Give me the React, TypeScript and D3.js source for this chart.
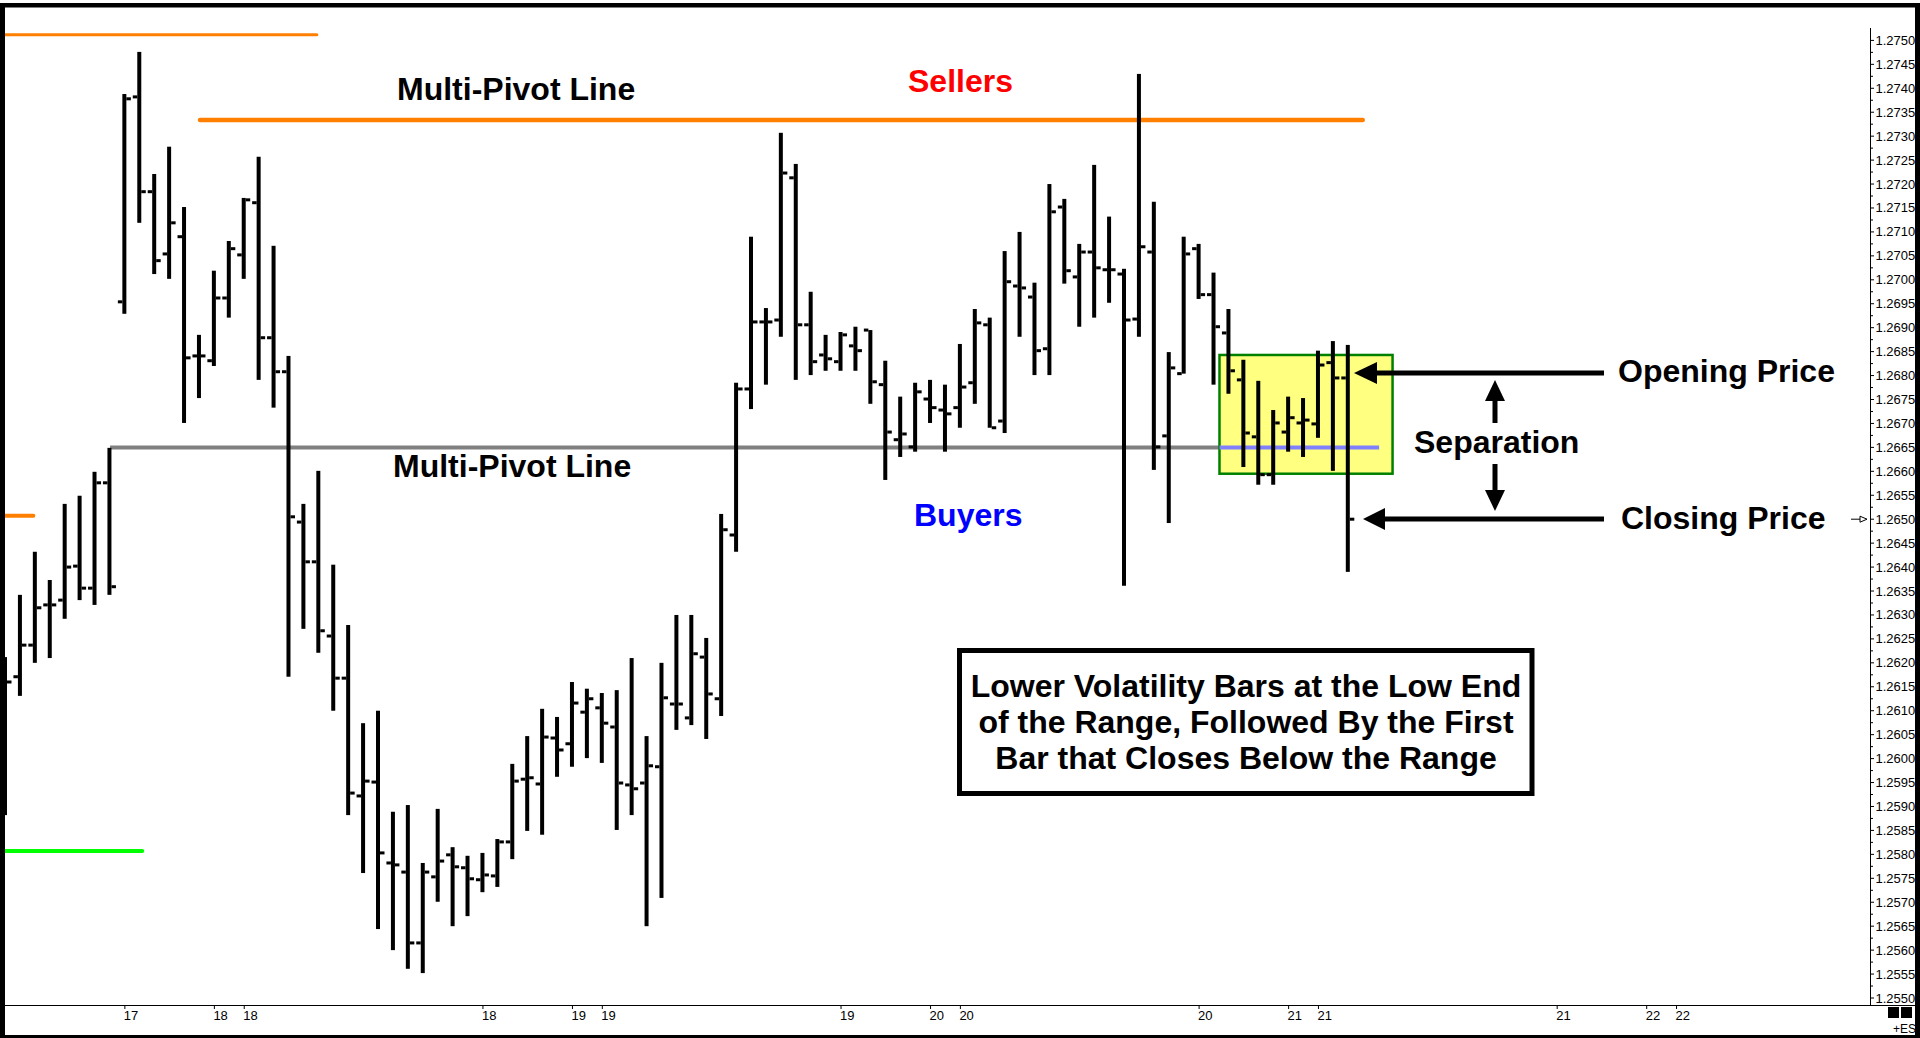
import React, { useEffect } from 'react';
import * as d3 from 'd3';

// OHLC hourly bars (price)
const opens = [
  1.26143, 1.26171, 1.26237, 1.26321, 1.26331, 1.26402, 1.26356, 1.26576, 1.26954, 1.27382,
  1.27184, 1.27054, 1.27090, 1.26841, 1.26831, 1.26962, 1.27052, 1.27161, 1.26879, 1.26808,
  1.26494, 1.26411, 1.26256, 1.26168, 1.25922, 1.25951, 1.25782, 1.25763, 1.25615, 1.25753,
  1.25799, 1.25772, 1.25747, 1.25755, 1.25826, 1.25957, 1.25947, 1.26043, 1.26031, 1.26097,
  1.26106, 1.26066, 1.25945, 1.25949, 1.25983, 1.26114, 1.26085, 1.26212, 1.26125, 1.26467,
  1.26772, 1.26912, 1.26916, 1.27213, 1.26906, 1.26843, 1.26829, 1.26862, 1.26895, 1.26781,
  1.26666, 1.26651, 1.26751, 1.26728, 1.26733, 1.26785, 1.26906, 1.26705, 1.26987, 1.26964,
  1.26856, 1.27152, 1.27006, 1.27058, 1.27021, 1.27012, 1.26918, 1.27058, 1.26674, 1.26804,
  1.27065, 1.26969, 1.26889, 1.26791, 1.26672, 1.26593, 1.26682, 1.26701, 1.26699, 1.26827,
  1.26795,
];
const highs = [
  1.26212, 1.26342, 1.26432, 1.26373, 1.26532, 1.26549, 1.26599, 1.26649, 1.27388, 1.27476,
  1.27221, 1.27278, 1.27152, 1.26885, 1.27019, 1.27081, 1.27171, 1.27257, 1.27071, 1.26841,
  1.26532, 1.26601, 1.26405, 1.26279, 1.26074, 1.26100, 1.25889, 1.25903, 1.25782, 1.25895,
  1.25815, 1.25797, 1.25803, 1.25832, 1.25989, 1.26047, 1.26104, 1.26087, 1.26160, 1.26146,
  1.26137, 1.26143, 1.26210, 1.26047, 1.26200, 1.26300, 1.26300, 1.26252, 1.26511, 1.26785,
  1.27090, 1.26941, 1.27307, 1.27242, 1.26975, 1.26885, 1.26891, 1.26902, 1.26895, 1.26831,
  1.26756, 1.26785, 1.26791, 1.26781, 1.26866, 1.26939, 1.26921, 1.27060, 1.27100, 1.26994,
  1.27200, 1.27169, 1.27075, 1.27240, 1.27132, 1.27023, 1.27430, 1.27163, 1.26849, 1.27090,
  1.27075, 1.27015, 1.26939, 1.26833, 1.26789, 1.26728, 1.26756, 1.26753, 1.26852, 1.26872,
  1.26864,
];
const lows = [
  1.25882, 1.26131, 1.26200, 1.26210, 1.26292, 1.26331, 1.26321, 1.26342, 1.26929, 1.27119,
  1.27012, 1.27002, 1.26701, 1.26753, 1.26820, 1.26921, 1.27002, 1.26791, 1.26733, 1.26171,
  1.26271, 1.26221, 1.26100, 1.25882, 1.25761, 1.25644, 1.25600, 1.25561, 1.25552, 1.25701,
  1.25650, 1.25671, 1.25721, 1.25732, 1.25790, 1.25849, 1.25841, 1.25962, 1.25983, 1.26001,
  1.25991, 1.25851, 1.25882, 1.25650, 1.25709, 1.26060, 1.26070, 1.26041, 1.26089, 1.26432,
  1.26730, 1.26781, 1.26881, 1.26791, 1.26801, 1.26810, 1.26810, 1.26810, 1.26741, 1.26582,
  1.26630, 1.26641, 1.26701, 1.26641, 1.26691, 1.26741, 1.26691, 1.26680, 1.26881, 1.26801,
  1.26801, 1.26992, 1.26902, 1.26921, 1.26952, 1.26361, 1.26881, 1.26603, 1.26492, 1.26804,
  1.26960, 1.26781, 1.26762, 1.26609, 1.26572, 1.26572, 1.26641, 1.26630, 1.26670, 1.26601,
  1.26390,
];
const closes = [
  1.26160, 1.26237, 1.26315, 1.26321, 1.26400, 1.26356, 1.26576, 1.26359, 1.27378, 1.27184,
  1.27040, 1.27119, 1.26837, 1.26841, 1.26962, 1.27065, 1.27167, 1.26879, 1.26808, 1.26505,
  1.26411, 1.26267, 1.26168, 1.25928, 1.25953, 1.25803, 1.25778, 1.25615, 1.25763, 1.25786,
  1.25774, 1.25749, 1.25757, 1.25826, 1.25953, 1.25960, 1.26045, 1.26018, 1.26116, 1.26125,
  1.26074, 1.25949, 1.25937, 1.25985, 1.26127, 1.26114, 1.26219, 1.26135, 1.26478, 1.26772,
  1.26912, 1.26912, 1.27223, 1.26906, 1.26829, 1.26835, 1.26885, 1.26852, 1.26787, 1.26682,
  1.26678, 1.26766, 1.26733, 1.26720, 1.26776, 1.26910, 1.26691, 1.26996, 1.26983, 1.26852,
  1.27142, 1.27019, 1.27058, 1.27025, 1.27021, 1.26916, 1.27069, 1.26651, 1.26816, 1.27054,
  1.26969, 1.26902, 1.26810, 1.26680, 1.26593, 1.26701, 1.26712, 1.26707, 1.26822, 1.26795,
  1.26500,
];

// bottom axis (bar index of each session tick and its day label)
const dayTickIndex = [8, 14, 16, 32, 38, 40, 56, 62, 64, 80, 86, 88, 104, 110, 112];
const dayTickLabels = ['17', '18', '18', '18', '19', '19', '19', '20', '20', '20', '21', '21', '21', '22', '22'];

// right axis
const priceMin = 1.255;
const priceMax = 1.275;
const priceStep = 0.0005;

// level lines: [price, fromIndex, toIndex]
const topOrange = [1.27512, 0, 20.9];
const mainOrange = [1.27334, 13.07, 91.0];
const leftOrange = [1.26507, 0, 1.9];
const greenLevel = [1.25807, 0, 9.2];
const pivotLevel = [1.2665, 7.04, 81.4];
const boxLevel = [1.2665, 81.4, 92.1];
const rangeBox = { top: 1.26843, bottom: 1.26595, from: 81.4, to: 93.0 };
const lastMarker = 1.265;

const FONT = "'Liberation Sans', Arial, Helvetica, sans-serif";
const NARROW = "'Liberation Sans Narrow', 'Arial Narrow', 'Liberation Sans', sans-serif";

export default function App() {
  useEffect(() => {
    document.body.style.margin = '0';
    document.body.style.overflow = 'hidden';
  }, []);

  const x = d3.scaleLinear().domain([0, 125]).range([5, 1870]);
  const y = d3.scaleLinear().domain([priceMin, priceMax]).range([998, 40.4]);
  const nSteps = Math.round((priceMax - priceMin) / priceStep);
  const majors = d3.range(0, nSteps + 1).map((i) => priceMin + i * priceStep);
  const minors = d3.range(0, nSteps).map((i) => priceMin + (i + 0.5) * priceStep);

  const level = (l: number[], color: string, w: number) => (
    <line x1={x(l[1])} x2={x(l[2])} y1={y(l[0])} y2={y(l[0])} stroke={color} strokeWidth={w} strokeLinecap="round" />
  );

  const boldText = { fontFamily: FONT, fontWeight: 700, fontSize: 32 } as const;

  return (
    <svg width={1920} height={1038} style={{ position: 'absolute', left: 0, top: 0, display: 'block' }}>
      <rect x={0} y={0} width={1920} height={1038} fill="#fff" />

      {/* level lines */}
      {level(topOrange, '#FF8000', 3)}
      {level(mainOrange, '#FF8000', 4.5)}
      {level(leftOrange, '#FF8000', 4)}
      {level(greenLevel, '#00FF00', 4)}
      <line x1={x(pivotLevel[1])} x2={x(pivotLevel[2])} y1={y(pivotLevel[0])} y2={y(pivotLevel[0])} stroke="#808080" strokeWidth={4} />

      {/* range box */}
      <rect
        x={x(rangeBox.from)}
        y={y(rangeBox.top)}
        width={x(rangeBox.to) - x(rangeBox.from)}
        height={y(rangeBox.bottom) - y(rangeBox.top)}
        fill="#FFFF80"
        stroke="#008000"
        strokeWidth={2.5}
      />
      <line x1={x(boxLevel[1])} x2={x(boxLevel[2])} y1={y(boxLevel[0])} y2={y(boxLevel[0])} stroke="#8080FF" strokeWidth={4} />

      {/* OHLC bars */}
      {opens.map((o, i) => {
        const cx = x(i);
        const yh = y(highs[i]);
        const yl = y(lows[i]);
        return (
          <g key={i}>
            <rect x={cx - 2} y={yh} width={4} height={yl - yh} fill="#000" />
            <rect x={cx - 6.5} y={y(o) - 1.5} width={4.5} height={3} fill="#000" />
            <rect x={cx + 2} y={y(closes[i]) - 1.5} width={4.5} height={3} fill="#000" />
          </g>
        );
      })}

      {/* right price axis */}
      <line x1={1870.5} x2={1870.5} y1={28} y2={1005} stroke="#000" strokeWidth={1} />
      {majors.map((v, i) => (
        <g key={'m' + i}>
          <line x1={1870} x2={1874} y1={y(v)} y2={y(v)} stroke="#000" strokeWidth={1} />
          <text x={1875.5} y={y(v)} dominantBaseline="central" fontFamily={FONT} fontSize={13} fill="#000">
            {v.toFixed(4)}
          </text>
        </g>
      ))}
      {minors.map((v, i) => (
        <line key={'n' + i} x1={1870} x2={1873} y1={y(v)} y2={y(v)} stroke="#000" strokeWidth={1} />
      ))}
      {/* last price marker */}
      <line x1={1851} x2={1860} y1={y(lastMarker)} y2={y(lastMarker)} stroke="#000" strokeWidth={1} />
      <path
        d={`M1860,${y(lastMarker) - 3}L1867,${y(lastMarker)}L1860,${y(lastMarker) + 3}Z`}
        fill="#fff"
        stroke="#000"
        strokeWidth={1}
      />

      {/* bottom time axis */}
      <line x1={5} x2={1915} y1={1005.5} y2={1005.5} stroke="#000" strokeWidth={1} />
      {dayTickIndex.map((d, i) => (
        <g key={'t' + i}>
          <line x1={x(d) + 0.5} x2={x(d) + 0.5} y1={1005} y2={1009} stroke="#000" strokeWidth={1} />
          <text x={x(d) - 0.5} y={1020} fontFamily={NARROW} fontSize={13} fill="#000">
            {dayTickLabels[i]}
          </text>
        </g>
      ))}
      <rect x={1888} y={1007} width={11} height={11} fill="#000" />
      <rect x={1901} y={1007} width={11} height={11} fill="#000" />
      <text x={1893} y={1033} fontFamily={NARROW} fontSize={12} fill="#000">+ES</text>

      {/* annotations */}
      <text x={397} y={100} {...boldText} fill="#000">Multi-Pivot Line</text>
      <text x={393} y={477} {...boldText} fill="#000">Multi-Pivot Line</text>
      <text x={908} y={92} {...boldText} fill="#FF0000">Sellers</text>
      <text x={914} y={526} {...boldText} fill="#0000FF">Buyers</text>

      <rect x={959.5} y={650.5} width={572.5} height={143} fill="#fff" stroke="#000" strokeWidth={5} />
      <text x={1246} y={697} {...boldText} textAnchor="middle" fill="#000">Lower Volatility Bars at the Low End</text>
      <text x={1246} y={733} {...boldText} textAnchor="middle" fill="#000">of the Range, Followed By the First</text>
      <text x={1246} y={769} {...boldText} textAnchor="middle" fill="#000">Bar that Closes Below the Range</text>

      {/* opening / closing arrows */}
      <line x1={1374} x2={1604} y1={373} y2={373} stroke="#000" strokeWidth={5} />
      <path d="M1354,373L1377,362L1377,384Z" fill="#000" />
      <line x1={1382} x2={1604} y1={519} y2={519} stroke="#000" strokeWidth={5} />
      <path d="M1363,519L1385,508L1385,530Z" fill="#000" />
      <line x1={1495} x2={1495} y1={398} y2={423} stroke="#000" strokeWidth={5} />
      <path d="M1495,380L1485,401L1505,401Z" fill="#000" />
      <line x1={1495} x2={1495} y1={464} y2={493} stroke="#000" strokeWidth={5} />
      <path d="M1495,511L1485,490L1505,490Z" fill="#000" />
      <text x={1618} y={382} {...boldText} fill="#000">Opening Price</text>
      <text x={1414} y={453} {...boldText} fill="#000">Separation</text>
      <text x={1621} y={529} {...boldText} fill="#000">Closing Price</text>

      {/* outer frame */}
      <rect x={0} y={3} width={1920} height={4.5} fill="#000" />
      <rect x={0} y={3} width={5} height={1035} fill="#000" />
      <rect x={1915} y={3} width={5} height={1035} fill="#000" />
      <rect x={0} y={1035} width={1920} height={3} fill="#000" />
    </svg>
  );
}
